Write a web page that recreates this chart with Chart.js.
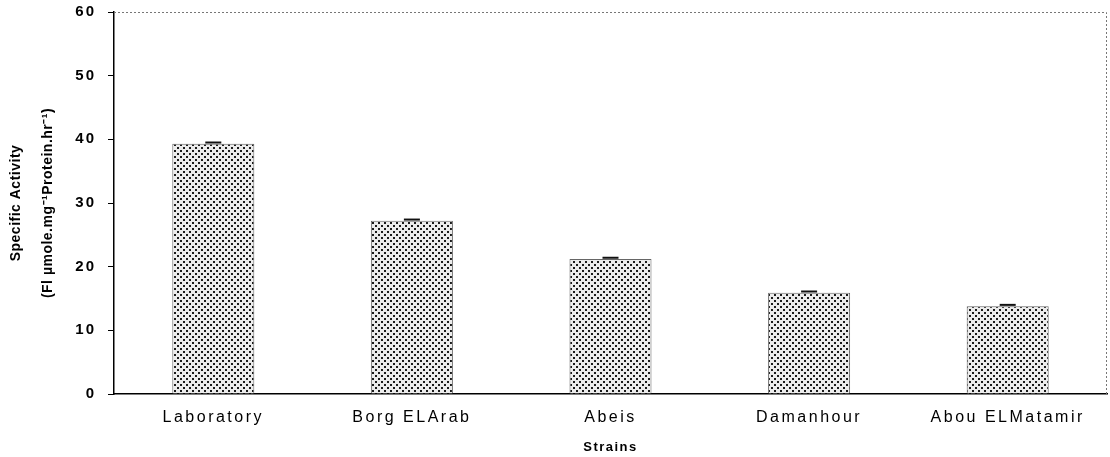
<!DOCTYPE html>
<html>
<head>
<meta charset="utf-8">
<script src="https://cdn.jsdelivr.net/npm/chart.js@4/dist/chart.umd.min.js"></script>
<style>
  html, body { margin: 0; padding: 0; background: #fff; }
  #wrap { width: 1110px; height: 457px; }
</style>
</head>
<body>
<div id="wrap"><canvas id="chart" width="1110" height="457"></canvas></div>
<script>
// ---- Data ----
const strains   = ["Laboratory", "Borg ELArab", "Abeis", "Damanhour", "Abou ELMatamir"];
const activity  = [39.3, 27.2, 21.2, 15.9, 13.8];
const errors    = [0.2, 0.2, 0.2, 0.2, 0.2];
const yTicks    = [0, 10, 20, 30, 40, 50, 60];

// ---- stipple pattern for the bars ----
function stipple() {
  const c = document.createElement("canvas");
  c.width = 6; c.height = 6;
  const g = c.getContext("2d");
  g.fillStyle = "#ececec";
  g.fillRect(0, 0, 6, 6);
  g.fillStyle = "#1a1a1a";
  g.fillRect(0, 0, 2, 2);
  g.fillRect(3, 3, 2, 2);
  return g.createPattern(c, "repeat");
}

// per-text letter spacing, the scan has wide tick labels
function withSpacing(scale, name, sp) {
  const orig = scale.constructor.prototype[name];
  scale[name] = function (...args) {
    const ctx = this.ctx;
    const old = ctx.letterSpacing;
    ctx.letterSpacing = sp;
    orig.apply(this, args);
    ctx.letterSpacing = old;
  };
}
const spacing = {
  id: "spacing",
  afterLayout(chart) {
    const { x, y } = chart.scales;
    withSpacing(x, "drawLabels", "2.5px");
    withSpacing(x, "drawTitle", "1.5px");
    withSpacing(y, "drawLabels", "2px");
    withSpacing(y, "drawTitle", "0.5px");
  }
};

// error caps + dotted frame on top/right
const extras = {
  id: "extras",
  afterDatasetsDraw(chart) {
    const { ctx, chartArea: a, scales: { x, y } } = chart;
    ctx.save();
    ctx.fillStyle = "#111";
    activity.forEach((v, i) => {
      const cx = x.getPixelForValue(i);
      const top = y.getPixelForValue(v + errors[i]);
      const bot = y.getPixelForValue(v);
      ctx.fillRect(cx - 8, top - 1, 16, Math.max(2, bot - top));
    });
    ctx.strokeStyle = "#777";
    ctx.lineWidth = 1;
    ctx.setLineDash([2, 2]);
    ctx.beginPath();
    ctx.moveTo(a.left, a.top + 0.5);
    ctx.lineTo(a.right - 0.5, a.top + 0.5);
    ctx.lineTo(a.right - 0.5, a.bottom);
    ctx.stroke();
    ctx.restore();
  }
};

new Chart(document.getElementById("chart"), {
  type: "bar",
  data: {
    labels: strains,
    datasets: [{
      data: activity,
      backgroundColor: stipple(),
      borderColor: "#666",
      borderWidth: 1,
      barPercentage: 0.826,
      categoryPercentage: 0.5,
    }]
  },
  options: {
    responsive: false,
    animation: false,
    layout: { padding: { top: 12, right: 3, bottom: 0, left: 0 } },
    plugins: { legend: { display: false }, tooltip: { enabled: false } },
    scales: {
      x: {
        afterFit: s => { s.height = 63; },
        grid: { display: false, drawTicks: false },
        border: { color: "#000", width: 1.5 },
        ticks: { color: "#000", padding: 14, font: { family: "Liberation Sans", size: 16 } },
        title: { display: true, text: "Strains", color: "#000", padding: { top: 0, bottom: 2 },
                 font: { family: "Liberation Sans", size: 13, weight: "bold" } }
      },
      y: {
        min: 0, max: 60,
        afterFit: s => { s.width = 114; s.paddingTop = 0; s.paddingBottom = 0; },
        afterBuildTicks: s => { s.ticks = yTicks.map(v => ({ value: v })); },
        grid: { display: true, drawOnChartArea: false, drawTicks: true, tickLength: 6, color: "#000" },
        border: { color: "#000", width: 1.5 },
        ticks: { color: "#000", padding: 12, font: { family: "Liberation Sans", size: 15, weight: "bold" } },
        title: { display: true, text: ["Specific Activity", "(Fl \u00b5mole.mg\u207b\u00b9Protein.hr\u207b\u00b9)"],
                 color: "#000", padding: { top: 0, bottom: 0 },
                 font: { family: "Liberation Sans", size: 14, weight: "bold", lineHeight: 2.3 } }
      }
    }
  },
  plugins: [spacing, extras]
});
</script>
</body>
</html>
